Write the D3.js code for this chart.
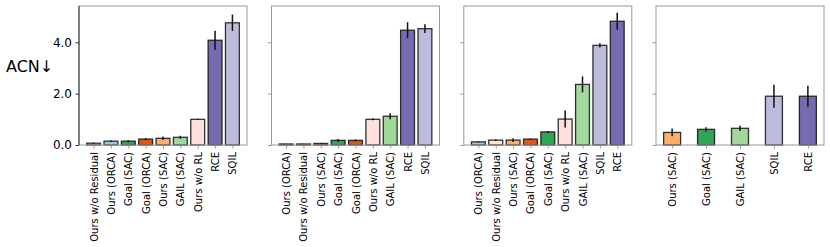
<!DOCTYPE html>
<html><head><meta charset="utf-8">
<script src="https://cdn.jsdelivr.net/npm/d3@7"></script>
<style>body{margin:0;background:#fff}svg{display:block}text{font-family:"DejaVu Sans",sans-serif}</style>
</head><body>
<script>
// Data
const colors = {
  "Ours w/o Residual": "#fee6ce",
  "Ours (ORCA)": "#9ecae1",
  "Goal (SAC)": "#31a354",
  "Goal (ORCA)": "#e6550d",
  "Ours (SAC)": "#fdae6b",
  "GAIL (SAC)": "#a1d99b",
  "Ours w/o RL": "#fee0dd",
  "RCE": "#756bb1",
  "SQIL": "#bcbddc"
};
const cats1 = ["Ours w/o Residual","Ours (ORCA)","Goal (SAC)","Goal (ORCA)","Ours (SAC)","GAIL (SAC)","Ours w/o RL","RCE","SQIL"];
const vals1 = [0.07,0.15,0.15,0.23,0.26,0.30,1.00,4.08,4.76];
const errs1 = [0.02,0.03,0.04,0.04,0.07,0.06,0.02,0.37,0.32];
const cats2 = ["Ours (ORCA)","Ours w/o Residual","Ours (SAC)","Goal (SAC)","Goal (ORCA)","Ours w/o RL","GAIL (SAC)","RCE","SQIL"];
const vals2 = [0.04,0.04,0.06,0.18,0.18,1.00,1.12,4.47,4.53];
const errs2 = [0.01,0.01,0.02,0.05,0.04,0.04,0.12,0.31,0.17];
const cats3 = ["Ours (ORCA)","Ours w/o Residual","Ours (SAC)","Goal (ORCA)","Goal (SAC)","Ours w/o RL","GAIL (SAC)","SQIL","RCE"];
const vals3 = [0.12,0.19,0.19,0.23,0.51,1.01,2.36,3.88,4.82];
const errs3 = [0.02,0.03,0.07,0.02,0.03,0.33,0.31,0.08,0.33];
const cats4 = ["Ours (SAC)","Goal (SAC)","GAIL (SAC)","SQIL","RCE"];
const vals4 = [0.49,0.61,0.65,1.90,1.90];
const errs4 = [0.15,0.08,0.10,0.45,0.41];
const yTicks = [0, 2, 4];
const yLabel = "ACN↓";

const panels = [
  {cats: cats1, vals: vals1, errs: errs1, w: 0.8},
  {cats: cats2, vals: vals2, errs: errs2, w: 0.8},
  {cats: cats3, vals: vals3, errs: errs3, w: 0.8},
  {cats: cats4, vals: vals4, errs: errs4, w: 0.5}
];

const W = 830, H = 247;
const svg = d3.select("body").append("svg").attr("width", W).attr("height", H);
const plotTop = 6, plotBottom = 145, pw = 168;
const lefts = [79, 271.5, 463.8, 656];
const y = d3.scaleLinear().domain([0, 5.414]).range([plotBottom, plotTop]);

panels.forEach((p, i) => {
  const n = p.cats.length;
  const lo = -p.w/2, hi = n - 1 + p.w/2, m = (hi - lo) * 0.05;
  const x = d3.scaleLinear().domain([lo - m, hi + m]).range([lefts[i], lefts[i] + pw]);
  const g = svg.append("g");
  const bw = x(p.w) - x(0);
  g.selectAll("rect.bar").data(p.cats).join("rect")
    .attr("x", (d, j) => x(j) - bw/2)
    .attr("y", (d, j) => y(p.vals[j]))
    .attr("width", bw)
    .attr("height", (d, j) => y(0) - y(p.vals[j]))
    .attr("fill", d => colors[d])
    .attr("stroke", "#111").attr("stroke-opacity", 0.85).attr("stroke-width", 1.3);
  g.selectAll("line.err").data(p.cats).join("line")
    .attr("x1", (d, j) => x(j)).attr("x2", (d, j) => x(j))
    .attr("y1", (d, j) => y(p.vals[j] + p.errs[j]))
    .attr("y2", (d, j) => y(Math.max(0, p.vals[j] - p.errs[j])))
    .attr("stroke", "#111").attr("stroke-width", 1.5);
  const sp = "#999";
  g.append("rect").attr("x", lefts[i]).attr("y", plotTop).attr("width", pw).attr("height", plotBottom - plotTop)
    .attr("fill", "none").attr("stroke", sp).attr("stroke-width", 1);
  if (i === 0) {
    g.append("line").attr("x1", lefts[i]).attr("x2", lefts[i]).attr("y1", plotTop).attr("y2", plotBottom)
      .attr("stroke", "#333").attr("stroke-width", 1);
  }
  const ya = d3.axisLeft(y).tickValues(yTicks).tickSize(3.5).tickPadding(3.5)
    .tickFormat(i === 0 ? d3.format(".1f") : () => "");
  const yg = g.append("g").attr("transform", `translate(${lefts[i]},0)`).call(ya);
  yg.select(".domain").remove();
  yg.selectAll(".tick line").attr("stroke", i === 0 ? "#333" : sp);
  yg.selectAll(".tick text").attr("font-size", 12).attr("fill", "#000").attr("font-family", "DejaVu Sans");
  const xa = d3.axisBottom(x).tickValues(d3.range(n)).tickSize(3.5).tickPadding(3.5)
    .tickFormat(j => p.cats[j]);
  const xg = g.append("g").attr("transform", `translate(0,${plotBottom})`).call(xa);
  xg.select(".domain").remove();
  xg.selectAll(".tick line").attr("stroke", sp);
  xg.selectAll(".tick text")
    .attr("font-size", 10).attr("fill", "#000").attr("font-family", "DejaVu Sans")
    .attr("text-anchor", "end").attr("dy", "0.35em")
    .attr("transform", "rotate(-90)")
    .attr("x", -7).attr("y", 0);
});

svg.append("text").attr("x", 6).attr("y", 72).attr("font-size", 16).attr("fill", "#000")
  .text(yLabel);
</script>
</body></html>
